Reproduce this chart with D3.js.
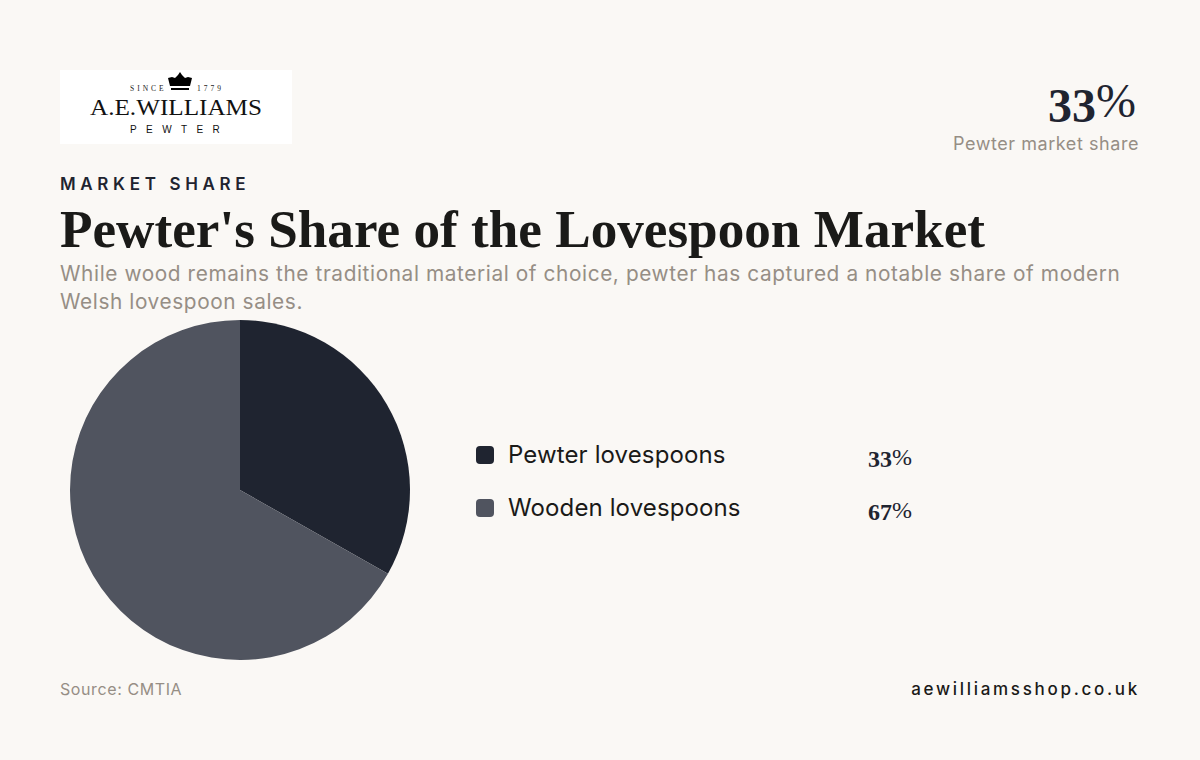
<!DOCTYPE html>
<html>
<head>
<meta charset="utf-8">
<script src="https://cdn.jsdelivr.net/npm/d3@7"></script>
<style>
  html, body { margin: 0; padding: 0; background: #faf8f5; }
  svg { display: block; }
  text { font-family: Inter, sans-serif; }
  .serif { font-family: "Liberation Serif", serif; font-weight: 700; }
</style>
</head>
<body>
<div id="chart"></div>
<script>
const categories = ['Pewter lovespoons', 'Wooden lovespoons'];
const shares = [33, 67];
// slice angles, the labels are rounded
const sliceShares = [33.2, 66.8];
const colors = ['#1f2430', '#50545f'];
const subtitleLines = [
  'While wood remains the traditional material of choice, pewter has captured a notable share of modern',
  'Welsh lovespoon sales.'
];

const svg = d3.select('#chart').append('svg').attr('width', 1200).attr('height', 760);

// bold digits with a lighter, slightly raised percent sign, like the figures in the original
function statText(g, value, x, y, size, raise) {
  const t = g.append('text').attr('class', 'serif').attr('x', x).attr('y', y)
    .attr('font-size', size).attr('fill', colors[0]);
  t.append('tspan').text(value);
  t.append('tspan').attr('dy', -raise).attr('font-weight', 400).text('%');
}

// logo block
svg.append('rect').attr('x', 60).attr('y', 70).attr('width', 232).attr('height', 74).attr('fill', '#fff');
svg.append('text').attr('x', 130).attr('y', 91)
  .attr('font-size', 7.5).attr('letter-spacing', 3).attr('fill', '#222')
  .style('font-family', 'Liberation Serif').text('SINCE');
svg.append('text').attr('x', 197).attr('y', 91)
  .attr('font-size', 7.5).attr('letter-spacing', 3).attr('fill', '#222')
  .style('font-family', 'Liberation Serif').text('1779');
svg.append('path')
  .attr('d', 'M170 86 L168 78 L172 77 L175 78 L178 75 L180 72 L182 75 L185 78 L188 77 L192 78 L190 86 Z M171 88 H189 V90 H171 Z')
  .attr('fill', '#000');
svg.append('text').attr('x', 176).attr('y', 115).attr('text-anchor', 'middle')
  .attr('font-size', 24).attr('textLength', 172).attr('lengthAdjust', 'spacingAndGlyphs').attr('fill', '#111')
  .style('font-family', 'Liberation Serif').text('A.E.WILLIAMS');
svg.append('text').attr('x', 130).attr('y', 133)
  .attr('font-size', 10).attr('letter-spacing', 9.4).attr('fill', '#111')
  .style('font-family', 'Liberation Sans').text('PEWTER');

// headline stat
statText(svg, shares[0], 1048, 122, 48, 5);
svg.append('text').attr('x', 1139).attr('y', 150).attr('text-anchor', 'end')
  .attr('font-size', 18).attr('letter-spacing', 0.56).attr('fill', '#968e85').text('Pewter market share');

svg.append('text').attr('x', 60).attr('y', 190).attr('font-size', 17).attr('font-weight', 600)
  .attr('letter-spacing', 4.65).attr('fill', colors[0]).text('MARKET SHARE');
svg.append('text').attr('class', 'serif').attr('x', 60).attr('y', 247).attr('font-size', 53)
  .attr('textLength', 925).attr('lengthAdjust', 'spacingAndGlyphs').attr('fill', '#1a1a18')
  .text("Pewter's Share of the Lovespoon Market");

svg.selectAll('.sub').data(subtitleLines).join('text').attr('class', 'sub')
  .attr('x', 60).attr('y', (d, i) => 281 + i * 27.5)
  .attr('font-size', 20.8).attr('letter-spacing', 0.6).attr('fill', '#968e85').text(d => d);

// pie
const pie = d3.pie().sort(null);
const arc = d3.arc().innerRadius(0).outerRadius(170);
svg.append('g').attr('transform', 'translate(240,490)')
  .selectAll('path').data(pie(sliceShares)).join('path')
  .attr('d', arc).attr('fill', (d, i) => colors[i]);

// legend
const y = d3.scalePoint().domain(categories).range([455, 508]);
const rows = svg.selectAll('.row').data(categories).join('g').attr('class', 'row')
  .attr('transform', d => `translate(0,${y(d)})`);
rows.append('rect').attr('x', 476).attr('y', -9).attr('width', 18).attr('height', 18).attr('rx', 4)
  .attr('fill', (d, i) => colors[i]);
rows.append('text').attr('x', 508).attr('y', 8).attr('font-size', 24).attr('letter-spacing', 0.12)
  .attr('fill', '#1a1a18').text(d => d);
rows.each(function(d, i) {
  statText(d3.select(this), shares[i], 868, 12, 24, 2);
});

// footer
svg.append('text').attr('x', 60).attr('y', 695).attr('font-size', 16).attr('letter-spacing', 0.6)
  .attr('fill', '#968e85').text('Source: CMTIA');
svg.append('text').attr('x', 1140).attr('y', 695).attr('text-anchor', 'end')
  .attr('font-size', 17).attr('font-weight', 500).attr('letter-spacing', 2.7).attr('fill', '#1a1a18')
  .text('aewilliamsshop.co.uk');
</script>
</body>
</html>
